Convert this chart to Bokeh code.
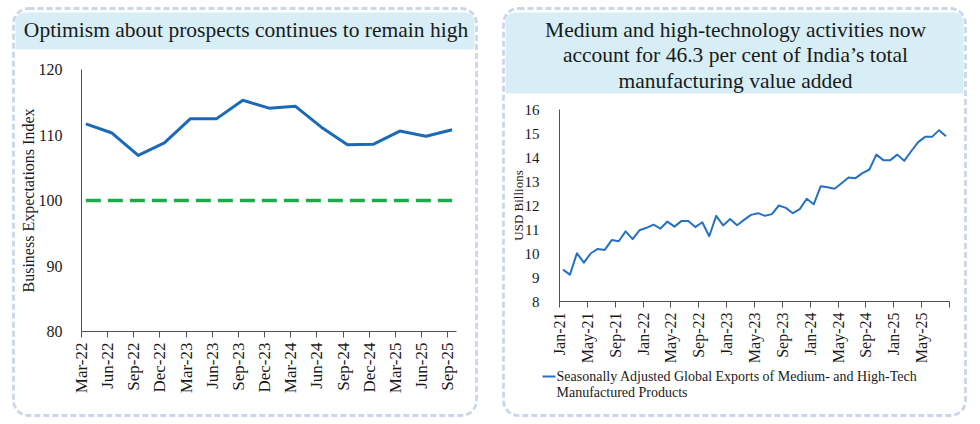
import math
from bokeh.plotting import figure
from bokeh.models import Range1d, FixedTicker, BoxAnnotation, Label
from bokeh.embed import file_html
from bokeh.resources import INLINE

# ---------------- data ----------------
left_title = "Optimism about prospects continues to remain high"
left_ylabel = "Business Expectations Index"
left_quarters = ["Mar-22", "Jun-22", "Sep-22", "Dec-22", "Mar-23", "Jun-23", "Sep-23",
                 "Dec-23", "Mar-24", "Jun-24", "Sep-24", "Dec-24", "Mar-25", "Jun-25", "Sep-25"]
left_index = [111.7, 110.3, 106.9, 108.8, 112.5, 112.5, 115.3, 114.1, 114.4, 111.2,
              108.5, 108.6, 110.6, 109.8, 110.8]
left_threshold = [100] * 15
left_yticks = [80, 90, 100, 110, 120]

right_title = ["Medium and high-technology activities now",
               "account for 46.3 per cent of India\u2019s total",
               "manufacturing value added"]
right_ylabel = "USD Billions"
right_tick_labels = ["Jan-21", "May-21", "Sep-21", "Jan-22", "May-22", "Sep-22", "Jan-23",
                     "May-23", "Sep-23", "Jan-24", "May-24", "Sep-24", "Jan-25", "May-25"]
right_exports = [9.33, 9.12, 10.01, 9.62, 10.01, 10.19, 10.15, 10.56, 10.51, 10.92,
                 10.60, 10.97, 11.07, 11.20, 11.04, 11.33, 11.12, 11.35, 11.35, 11.10,
                 11.30, 10.72, 11.57, 11.17, 11.44, 11.18, 11.40, 11.61, 11.68, 11.57,
                 11.64, 12.00, 11.90, 11.68, 11.85, 12.28, 12.05, 12.80, 12.76, 12.70,
                 12.93, 13.17, 13.14, 13.35, 13.50, 14.12, 13.89, 13.89, 14.12, 13.86,
                 14.26, 14.64, 14.86, 14.86, 15.14, 14.89]
right_legend = ["Seasonally Adjusted Global Exports of Medium- and High-Tech",
                "Manufactured Products"]
right_yticks = [8, 9, 10, 11, 12, 13, 14, 15, 16]

# ---------------- style ----------------
FONT = "Liberation Serif"
BORDER = "#5279b4"
BAND = "#d7eef6"
TXT = "#1a1a1a"
AX = "#505050"
BLUE_L = "#1b6ab8"
BLUE_R = "#2771c1"
GREEN = "#1faa4a"


def absolute(left, top):
    return {"position": "absolute", "left": f"{left}px", "top": f"{top}px"}


# ---------------- background panel decoration ----------------
bg = figure(width=980, height=424, output_backend="svg", toolbar_location=None,
            x_range=Range1d(0, 980), y_range=Range1d(424, 0),
            x_axis_type=None, y_axis_type=None, min_border=0,
            styles=absolute(0, 0))
bg.outline_line_color = None
bg.background_fill_color = "white"
bg.border_fill_color = "white"
bg.grid.visible = False

for (bl, br, bt, bb) in [(15, 474, 12, 49), (505, 963, 12, 93)]:
    bg.add_layout(BoxAnnotation(left=bl, right=br, top=bt, bottom=bb, fill_color=BAND,
                                fill_alpha=1.0, line_color=None, border_radius=(9, 9, 0, 0)))
for (bl, br) in [(13, 476), (503, 965)]:
    bg.add_layout(BoxAnnotation(left=bl, right=br, top=8, bottom=415, fill_color=None,
                                line_color=BORDER, line_width=2.8, line_dash="6 3",
                                border_radius=15))

bg.add_layout(Label(x=245.5, y=29, text=left_title, text_font=FONT, text_font_size="21.5px",
                    text_color=TXT, text_align="center", text_baseline="middle"))
for t, yy in zip(right_title, [29, 54, 80]):
    bg.add_layout(Label(x=735, y=yy, text=t, text_font=FONT, text_font_size="21.5px",
                        text_color=TXT, text_align="center", text_baseline="middle"))

# legend (swatch + wrapped label)
bg.add_layout(BoxAnnotation(left=542, right=555, top=375, bottom=377, fill_color=BLUE_R,
                            fill_alpha=1.0, line_color=None))
for t, yy in zip(right_legend, [376, 392]):
    bg.add_layout(Label(x=556, y=yy, text=t, text_font=FONT, text_font_size="14px",
                        text_color=TXT, text_align="left", text_baseline="middle"))


def style(p):
    p.xgrid.visible = False
    p.ygrid.visible = False
    p.outline_line_color = None
    p.background_fill_alpha = 0
    p.border_fill_alpha = 0
    for ax in (p.xaxis[0], p.yaxis[0]):
        ax.axis_line_color = AX
        ax.axis_line_width = 1
        ax.major_label_text_font = FONT
        ax.major_label_text_color = TXT
        ax.axis_label_text_font = FONT
        ax.axis_label_text_color = TXT
        ax.axis_label_text_font_style = "normal"
        ax.minor_tick_line_color = None
    p.yaxis.major_tick_line_color = None
    p.xaxis.major_tick_line_color = AX
    p.xaxis.major_tick_out = 6
    p.xaxis.major_tick_in = 0
    p.xaxis.major_label_orientation = math.pi / 2
    p.xaxis.major_label_standoff = 5


# ---------------- left chart ----------------
p1 = figure(width=490, height=424, output_backend="svg", toolbar_location=None,
            x_range=Range1d(0, 43), y_range=Range1d(80, 120),
            min_border_left=81, min_border_right=34, min_border_top=69, min_border_bottom=93,
            styles=absolute(0, 0))
style(p1)
lx = [3 * i + 0.5 for i in range(len(left_index))]
p1.line(lx, left_threshold, line_color=GREEN, line_width=3.5, line_dash="15 7")
p1.line(lx, left_index, line_color=BLUE_L, line_width=3, line_join="round")

p1.xaxis.ticker = FixedTicker(ticks=[3 * i for i in range(len(left_quarters))])
p1.xaxis.major_label_overrides = {3 * i: q for i, q in enumerate(left_quarters)}
p1.xaxis.major_label_text_font_size = "17px"
p1.yaxis.ticker = FixedTicker(ticks=left_yticks)
p1.yaxis.major_label_text_font_size = "16px"
p1.yaxis.major_label_standoff = 13
p1.yaxis.axis_label = left_ylabel
p1.yaxis.axis_label_text_font_size = "16px"
p1.yaxis.axis_label_standoff = -1

# ---------------- right chart ----------------
p2 = figure(width=490, height=424, output_backend="svg", toolbar_location=None,
            x_range=Range1d(0, 56), y_range=Range1d(8, 16),
            min_border_left=69, min_border_right=31, min_border_top=109, min_border_bottom=123,
            styles=absolute(490, 0))
style(p2)
rx = [i + 0.5 for i in range(len(right_exports))]
p2.line(rx, right_exports, line_color=BLUE_R, line_width=2, line_join="round")

rt = [4 * i for i in range(len(right_tick_labels) + 1)]
p2.xaxis.ticker = FixedTicker(ticks=rt)
ov = {4 * i: t for i, t in enumerate(right_tick_labels)}
ov[rt[-1]] = ""
p2.xaxis.major_label_overrides = ov
p2.xaxis.major_label_text_font_size = "16px"
p2.yaxis.ticker = FixedTicker(ticks=right_yticks)
p2.yaxis.major_label_text_font_size = "15px"
p2.yaxis.major_label_standoff = 14
p2.yaxis.axis_label = right_ylabel
p2.yaxis.axis_label_text_font_size = "13px"
p2.yaxis.axis_label_standoff = -4

open("out.html", "w").write(file_html([bg, p1, p2], INLINE))
